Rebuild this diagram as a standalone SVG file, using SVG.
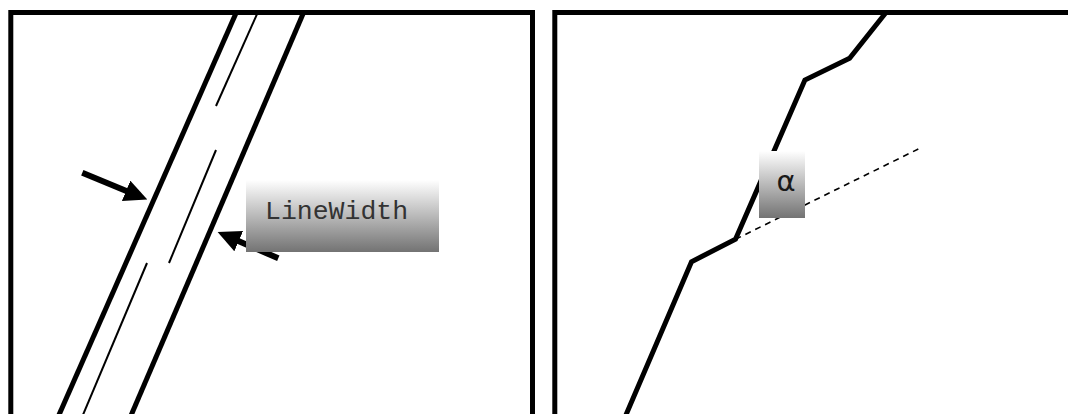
<svg xmlns="http://www.w3.org/2000/svg" width="1068" height="414" viewBox="0 0 1068 414">
  <style>
    .panel { fill: #ffffff; stroke: #000000; stroke-width: 5; }
    .thick { fill: none; stroke: #000000; stroke-width: 5; }
    .thin { fill: none; stroke: #000000; stroke-width: 2; }
    .shaft { fill: none; stroke: #000000; stroke-width: 6; marker-end: url(#head); }
    .dash { fill: none; stroke: #000000; stroke-width: 1.6; stroke-dasharray: 6 5; }
    .lbl { fill: url(#grad); stroke: none; }
    .mono { font-family: "Liberation Mono", "Courier New", monospace; font-size: 26.5px; fill: #333333; }
    .sans { font-family: "DejaVu Sans", "Liberation Sans", sans-serif; font-size: 29px; fill: #1a1a1a; }
  </style>
  <defs>
    <linearGradient id="grad" x1="0" y1="0" x2="0" y2="1">
      <stop offset="0" stop-color="#ffffff"/>
      <stop offset="1" stop-color="#737373"/>
    </linearGradient>
    <marker id="head" markerUnits="userSpaceOnUse" viewBox="0 0 23 22" markerWidth="23" markerHeight="22" refX="1" refY="11" orient="auto">
      <path d="M0,0 L23,11 L0,22 z" fill="#000000"/>
    </marker>
  </defs>

  <g id="panel-left">
    <rect class="panel" x="10.8" y="12.5" width="521.7" height="520"/>
  </g>
  <g id="panel-right">
    <rect class="panel" x="554.8" y="12.5" width="600" height="520"/>
  </g>

  <g id="stroke-edges">
    <line class="thick" x1="236.3" y1="12.5" x2="58.5" y2="416"/>
    <line class="thick" x1="303.6" y1="12.5" x2="130.8" y2="416"/>
  </g>
  <g id="center-line">
    <line class="thin" x1="257.5" y1="13" x2="216" y2="106"/>
    <line class="thin" x1="216" y1="150" x2="169" y2="263"/>
    <line class="thin" x1="147" y1="263" x2="82.5" y2="416"/>
  </g>

  <g id="connectors">
    <line class="shaft" x1="82.3" y1="172.7" x2="127" y2="191.2"/>
    <line class="shaft" x1="278.3" y1="258.3" x2="237.8" y2="240.8"/>
    <line class="dash" x1="735.5" y1="239.3" x2="918.3" y2="149"/>
  </g>

  <g id="label-linewidth">
    <rect class="lbl" x="246" y="180" width="193" height="72"/>
    <text class="mono" x="265" y="218.5">LineWidth</text>
  </g>

  <g id="jagged-line">
    <polyline class="thick" points="886,12.5 849.6,58.3 804.9,80 735.5,239.3 691.5,261.7 625.5,416"/>
  </g>

  <g id="label-alpha">
    <rect class="lbl" x="759" y="151" width="46" height="67"/>
    <text class="sans" x="786" y="191" text-anchor="middle">α</text>
  </g>
</svg>
